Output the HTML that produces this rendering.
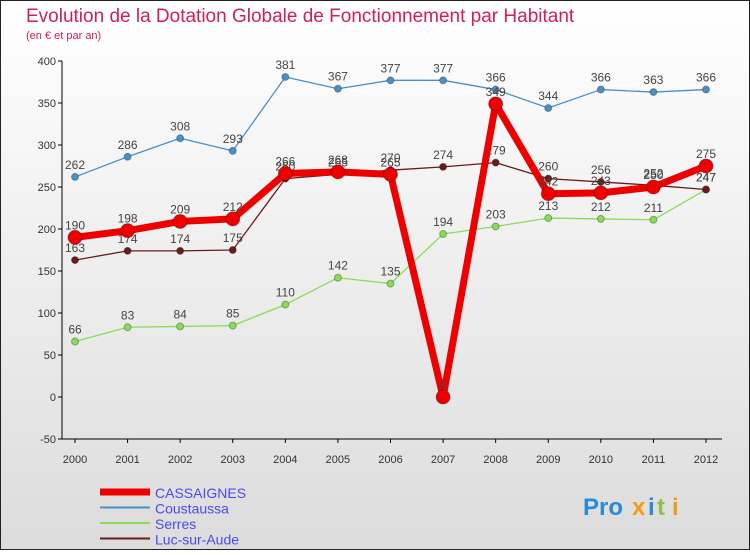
<!DOCTYPE html>
<html><head><meta charset="utf-8"><style>
html,body{margin:0;padding:0}
body{width:750px;height:550px;overflow:hidden;font-family:"Liberation Sans",sans-serif}
</style></head><body>
<svg width="750" height="550" xmlns="http://www.w3.org/2000/svg">
<defs><linearGradient id="bg" x1="0" y1="0" x2="0" y2="1"><stop offset="0" stop-color="#ffffff"/><stop offset="1" stop-color="#dcdcdc"/></linearGradient></defs>
<rect x="0.5" y="0.5" width="749" height="549" fill="url(#bg)" stroke="#222"/>
<text x="26" y="22" font-size="19" fill="#cc2255">Evolution de la Dotation Globale de Fonctionnement par Habitant</text>
<text x="26" y="39" font-size="11" fill="#cc2255">(en € et par an)</text>
<g id="axes"></g>
<g id="series"></g>
<g id="legend"></g>
<g font-size="24" font-weight="bold">
<text x="583" y="515" fill="#2a8ad4">Pro</text><text x="632" y="515" fill="#f39c12">x</text><text x="648" y="515" fill="#2a8ad4">i</text><text x="657" y="515" fill="#8bc34a">t</text><text x="672" y="515" fill="#f39c12">i</text>
</g>
</svg>
<script>
const years=[2000,2001,2002,2003,2004,2005,2006,2007,2008,2009,2010,2011,2012];
const yTicks=[-50,0,50,100,150,200,250,300,350,400];
const cassaignes=[190,198,209,212,266,268,265,0,349,242,243,250,275];
const coustaussa=[262,286,308,293,381,367,377,377,366,344,366,363,366];
const serres=[66,83,84,85,110,142,135,194,203,213,212,211,247];
const luc=[163,174,174,175,260,265,270,274,279,260,256,252,247];
const NS="http://www.w3.org/2000/svg";
const xS=i=>75+i*(706-75)/12;
const yS=v=>397-v*0.84;
function mk(t,a,p){const e=document.createElementNS(NS,t);for(const k in a)e.setAttribute(k,a[k]);p.appendChild(e);return e;}
const ax=document.getElementById('axes');
let yl=mk('line',{x1:62,y1:yS(400),x2:62,y2:yS(-50),stroke:'#000'},ax);


let xl=mk('line',{x1:62,y1:yS(-50),x2:722,y2:yS(-50),stroke:'#000'},ax);


yTicks.forEach(v=>{
 mk('line',{x1:58,y1:yS(v),x2:62,y2:yS(v),stroke:'#000'},ax);
 const t=mk('text',{x:56,y:yS(v)+4,'font-size':11,'text-anchor':'end',fill:'#333'},ax);t.textContent=v;
 
 
});
years.forEach((y,i)=>{
 mk('line',{x1:xS(i),y1:yS(-50),x2:xS(i),y2:yS(-50)+4,stroke:'#000'},ax);
 const t=mk('text',{x:xS(i),y:463,'font-size':11,'text-anchor':'middle',fill:'#333'},ax);t.textContent=y;
 
 
});
const sg=document.getElementById('series');
function draw(vals,color,w,r,name){
 const g=mk('g',{},sg);
 
 
 const pl=mk('polyline',{points:vals.map((v,i)=>xS(i)+','+yS(v)).join(' '),fill:'none',stroke:color,'stroke-width':w,'stroke-linejoin':'round'},g);
 
 
 vals.forEach((v,i)=>{
  const c=mk('circle',{cx:xS(i),cy:yS(v),r:r,fill:color,stroke:'rgba(0,0,0,0.3)'},g);
  
  
  const t=mk('text',{x:xS(i),y:yS(v)-8,'font-size':12,'text-anchor':'middle',fill:'#444'},g);t.textContent=v;
  
  
 });
}
draw(coustaussa,'#4a90c8',1.3,3.5,'coustaussa');
draw(serres,'#88dd55',1.3,3.5,'serres');
draw(luc,'#6b1a1a',1.3,3.5,'luc-sur-aude');
draw(cassaignes,'#ee0000',7,7,'cassaignes');
const lg=document.getElementById('legend');
const items=[['CASSAIGNES','#ee0000',7],['Coustaussa','#4a90c8',2],['Serres','#88dd55',2],['Luc-sur-Aude','#6b1a1a',2]];
items.forEach((it,i)=>{
 const y=492+i*15.5;
 const l=mk('line',{x1:100,y1:y,x2:150,y2:y,stroke:it[1],'stroke-width':it[2]},lg);
 
 
 const t=mk('text',{x:155,y:y+6,'font-size':14,fill:'#4a4aee'},lg);t.textContent=it[0];
 
 
});
</script>
</body></html>
